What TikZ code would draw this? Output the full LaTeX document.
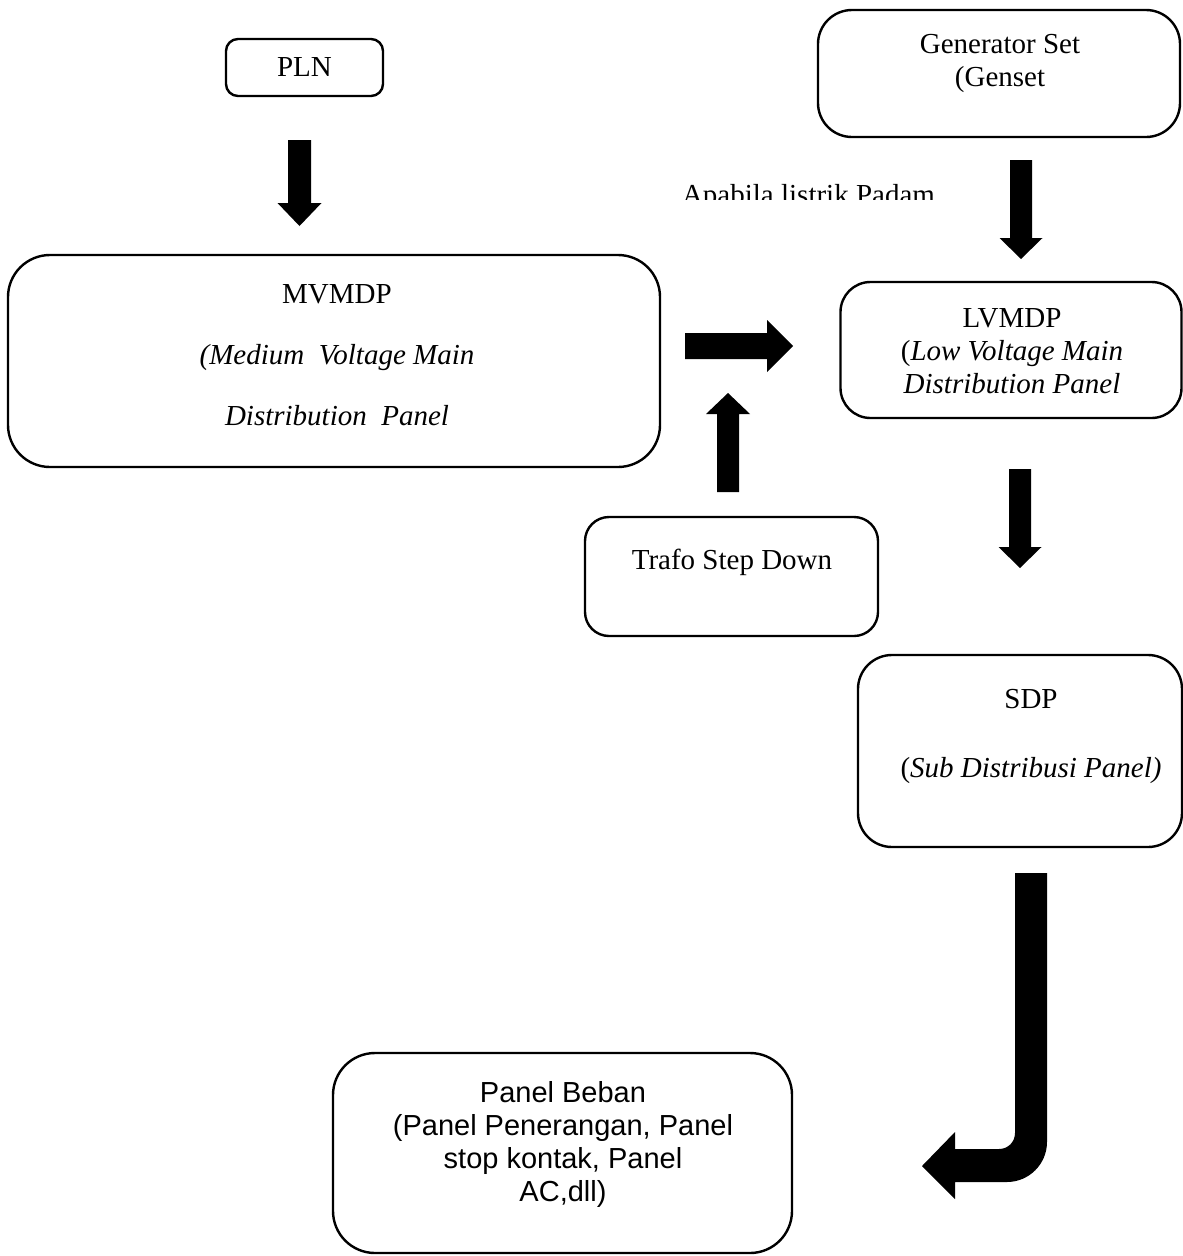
\documentclass[tikz,border=0pt]{standalone}
\usepackage{fontspec}
\setmainfont{Liberation Serif}
\newfontfamily\arialf{Liberation Sans}
\begin{document}
\begin{tikzpicture}[x=1pt,y=-1pt,
  box/.style={draw=black,line width=2.4pt,rounded corners=#1,inner sep=0pt},
  box/.default=20pt,
  lbl/.style={inner sep=0pt,align=center,font=\fontsize{29}{33}\selectfont}]
% vertical block arrow: #1 top centre, #2 half shaft, #3 half head, #4 head base, #5 tip (offsets)
\newcommand{\blockv}[5]{\fill[shift={(#1)}] (-#2,0) -- (#2,0) -- (#2,#4) -- (#3,#4) -- (0,#5) -- (-#3,#4) -- (-#2,#4) -- cycle;}
\newcommand{\blockh}[5]{\fill[shift={(#1)}] (0,-#2) -- (0,#2) -- (#4,#2) -- (#4,#3) -- (#5,0) -- (#4,-#3) -- (#4,-#2) -- cycle;}
\useasboundingbox (0,0) rectangle (1183,1256);
\fill[white] (0,0) rectangle (1183,1256);

% boxes
\node[box=12pt,minimum width=157pt,minimum height=57pt] (pln) at (304.5,67.5) {};
\node[lbl] (plntext) at (304.5,67.5) {PLN};

\node[box=34pt,minimum width=362pt,minimum height=127pt] (genset) at (999,73.5) {};
\node[lbl] (gentext) at (1000,63) {Generator Set\\(Genset};

\node[box=42pt,minimum width=652pt,minimum height=212pt] (mvmdp) at (334,361) {};
\node[lbl,font=\fontsize{29}{61}\selectfont] (mvtext) at (337,355)
  {MVMDP\\\textit{(Medium\ \ Voltage Main}\\\textit{Distribution\ \ Panel}};

\node[box=30pt,minimum width=341pt,minimum height=136pt] (lvmdp) at (1011,350) {};
\node[lbl] (lvtext) at (1012,351)
  {LVMDP\\(\textit{Low Voltage Main}\\\textit{Distribution Panel}};

\node[box=24pt,minimum width=293pt,minimum height=119pt] (trafo) at (731.5,576.5) {};
\node[lbl] (trafotext) at (732,562) {Trafo Step Down};

\node[box=34pt,minimum width=324pt,minimum height=192pt] (sdp) at (1020,751) {};
\node[lbl,font=\fontsize{29}{69}\selectfont] (sdptext) at (1031,736)
  {SDP\\(\textit{Sub Distribusi Panel)}};

\node[box=42pt,minimum width=459pt,minimum height=200pt] (beban) at (562.5,1153) {};
\node[lbl,font=\arialf\fontsize{29}{33}\selectfont] (bebantext) at (563,1144)
  {Panel Beban\\(Panel Penerangan, Panel\\stop kontak, Panel\\AC,dll)};

% note above the genset arrow, cut off at its lower edge
\begin{scope}
  \clip (600,150) rectangle (1000,199);
  \node[anchor=base,inner sep=0pt,font=\fontsize{29}{33}\selectfont] (padam) at (808.5,204) {Apabila listrik Padam};
\end{scope}

% block arrows
\coordinate (plnarrow) at (299.5,140);
\blockv{plnarrow}{11.5}{22}{63}{86}
\coordinate (genarrow) at (1021,160);
\blockv{genarrow}{11}{21.5}{78}{99}
\coordinate (lvarrow) at (1020,469);
\blockv{lvarrow}{11}{21.5}{78}{99}
\coordinate (uparrow) at (728,492);
\blockv{uparrow}{11}{22}{-78}{-99}
\coordinate (rightarrow) at (685,346);
\blockh{rightarrow}{13}{26}{82}{108}

% bent arrow from SDP down and round to the load panel
\coordinate (bentarrow) at (1031,873);
\fill[shift={(bentarrow)}] (-16,0) -- (16,0) -- (16,269)
  .. controls (16,291) and (-2,309) .. (-24,309)
  -- (-76,309) -- (-76,326) -- (-109,293) -- (-76,259) -- (-76,276) -- (-32,276)
  .. controls (-23,276) and (-16,269) .. (-16,260) -- cycle;
\end{tikzpicture}
\end{document}
